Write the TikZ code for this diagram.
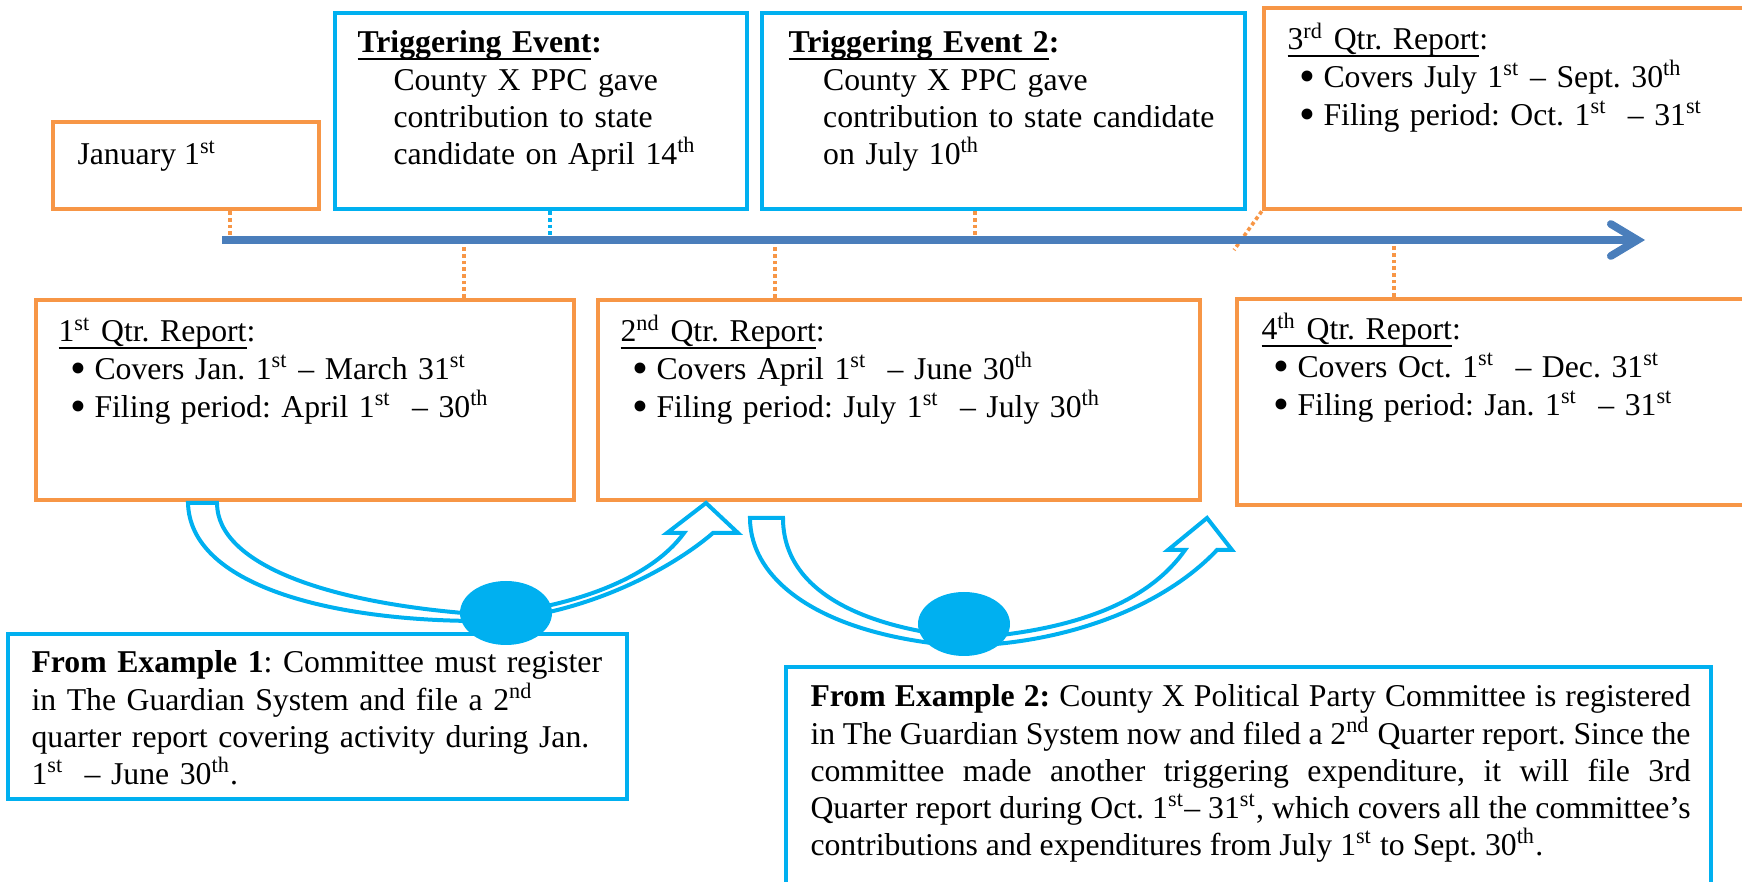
\documentclass[tikz,border=0pt]{standalone}
\usepackage{fontspec}
\setmainfont{Liberation Serif}
\usetikzlibrary{arrows.meta,positioning,shapes.geometric}
\definecolor{qorange}{HTML}{F79646}
\definecolor{tblue}{HTML}{00B0F0}
\definecolor{lineblue}{HTML}{4A7EBB}
\frenchspacing
\newsavebox{\ulbox}
\newcommand{\ulin}[1]{\sbox{\ulbox}{#1}\rlap{\rule[-2.5pt]{\wd\ulbox}{0.8pt}}\usebox{\ulbox}}
\newcommand{\qitem}[1]{\hspace*{4.5pt}\makebox[9pt][l]{\raisebox{-1.6pt}[0pt][0pt]{\scalebox{1.43}{\textbullet}}}#1}

\begin{document}
\begin{tikzpicture}[x=0.375pt, y=0.375pt,
	boxw/.style={minimum width=#1*0.375pt},
	boxh/.style={minimum height=#1*0.375pt},
	obox/.style={draw=qorange, line width=1.7pt, fill=white, inner sep=0pt},
	bbox/.style={draw=tblue, line width=1.75pt, fill=white, inner sep=0pt},
	exbox/.style={draw=tblue, line width=1.25pt, fill=white, inner sep=0pt},
	txt/.style={inner sep=0pt, anchor=base west, align=left, font=\fontsize{11.9pt}{13.9pt}\selectfont},
	dots/.style={line width=1.35pt, dash pattern=on 1.4pt off 1.1pt},
	timeline/.style={draw=lineblue, line width=2.9pt, -{Straight Barb[length=10pt, width=12pt, line cap=round]}},
	uarrow/.style={draw=tblue, line width=1.5pt, fill=white},
	spot/.style={ellipse, fill=tblue, minimum width=34.5pt, minimum height=24pt, inner sep=0pt}]
	\clip (0,0) rectangle (1742,-882);

	\node[obox, boxw=266, boxh=87] (jan) at (186,-165.5) {};
	\node[bbox, boxw=412, boxh=196] (trig1) at (541,-111) {};
	\node[bbox, boxw=483, boxh=196] (trig2) at (1003.5,-111) {};
	\node[obox, boxw=496, boxh=201] (q3) at (1512,-108.5) {};
	\node[obox, boxw=538, boxh=200] (q1) at (305,-400) {};
	\node[obox, boxw=602, boxh=200] (q2) at (899,-400) {};
	\node[obox, boxw=523, boxh=206] (q4) at (1498.5,-402) {};

	\node[txt] (jant) at (77,-165) {January 1\textsuperscript{st}};
	\node[txt, text width=142.5pt] (trig1t) at (357,-53) {\textbf{\ulin{Triggering Event}:}\\
		\hspace*{13.5pt}County X PPC gave\\
		\hspace*{13.5pt}contribution to state\\
		\hspace*{13.5pt}candidate on April 14\textsuperscript{th}};
	\node[txt, text width=168.75pt] (trig2t) at (788,-53) {\textbf{\ulin{Triggering Event 2}:}\\
		\hspace*{13pt}County X PPC gave\\
		\hspace*{13pt}contribution to state candidate\\
		\hspace*{13pt}on July 10\textsuperscript{th}};
	\node[txt, text width=170pt] (q3t) at (1287,-50) {\ulin{3\textsuperscript{rd} Qtr. Report}:\\
		\qitem{Covers July 1\textsuperscript{st} -- Sept. 30\textsuperscript{th}}\\[0.5pt]
		\qitem{Filing period: Oct. 1\textsuperscript{st}\ \ -- 31\textsuperscript{st}}};
	\node[txt, text width=187.5pt] (q1t) at (58,-342) {\ulin{1\textsuperscript{st} Qtr. Report}:\\
		\qitem{Covers Jan. 1\textsuperscript{st} -- March 31\textsuperscript{st}}\\[0.5pt]
		\qitem{Filing period: April 1\textsuperscript{st}\ \ -- 30\textsuperscript{th}}};
	\node[txt, text width=187.5pt] (q2t) at (620,-342) {\ulin{2\textsuperscript{nd} Qtr. Report}:\\
		\qitem{Covers April 1\textsuperscript{st}\ \ -- June 30\textsuperscript{th}}\\[0.5pt]
		\qitem{Filing period: July 1\textsuperscript{st}\ \ -- July 30\textsuperscript{th}}};
	\node[txt, text width=187.5pt] (q4t) at (1261,-340) {\ulin{4\textsuperscript{th} Qtr. Report}:\\
		\qitem{Covers Oct. 1\textsuperscript{st}\ \ -- Dec. 31\textsuperscript{st}}\\[0.5pt]
		\qitem{Filing period: Jan. 1\textsuperscript{st}\ \ -- 31\textsuperscript{st}}};

	\coordinate (t1) at (230,-240);
	\coordinate (t2) at (550,-240);
	\coordinate (t3) at (975,-240);
	\coordinate (t4) at (1234,-250);
	\coordinate (b1) at (464,-240);
	\coordinate (b2) at (775,-240);
	\coordinate (b3) at (1394,-240);
	\draw[dots, qorange] (jan.south -| t1) -- (t1);
	\draw[dots, tblue] (trig1.south -| t2) -- (t2);
	\draw[dots, qorange] (trig2.south -| t3) -- (t3);
	\draw[dots, qorange] (q3.south west) -- (t4);
	\draw[dots, qorange] (q1.north -| b1) -- (b1);
	\draw[dots, qorange] (q2.north -| b2) -- (b2);
	\draw[dots, qorange] (q4.north -| b3) -- (b3);

	\coordinate (tl0) at (222,-240);
	\coordinate (tl1) at (1645,-240);
	\draw[timeline] (tl0) -- (tl1);

	\draw[uarrow] (188,-503) .. controls (190,-585) and (330,-621) .. (480,-621)
		.. controls (580,-618) and (670,-570) .. (713,-533) -- (738,-533) -- (706,-503)
		-- (667,-533) -- (684,-533) .. controls (650,-580) and (570,-607) .. (490,-615)
		.. controls (330,-605) and (217,-565) .. (217,-503) -- cycle;
	\draw[uarrow] (750,-518) .. controls (750,-580) and (820,-635) .. (960,-646)
		.. controls (1070,-644) and (1165,-605) .. (1217,-550) -- (1232,-550) -- (1207,-518)
		-- (1168,-550) -- (1185,-550) .. controls (1150,-600) and (1080,-630) .. (970,-638)
		.. controls (860,-628) and (783,-590) .. (783,-518) -- cycle;

	\node[exbox, boxw=619, boxh=165] (ex1) at (317.5,-716.5) {};
	\node[exbox, boxw=925, boxh=233] (ex2) at (1248.5,-783.5) {};
	\node[txt, text width=221.25pt] (ex1t) at (31,-673) {\textbf{From Example 1}: Committee must register\\
		in The Guardian System and file a 2\textsuperscript{nd}\\
		quarter report covering activity during Jan.\\
		1\textsuperscript{st}\ \ -- June 30\textsuperscript{th}.};
	\node[txt, align=justify, text width=330pt] (ex2t) at (810,-707) {\textbf{From Example 2:} County X Political Party Committee is registered \linebreak
		in The Guardian System now and filed a 2\textsuperscript{nd} Quarter report. Since the \linebreak
		committee made another triggering expenditure, it will file 3rd \linebreak
		Quarter report during Oct. 1\textsuperscript{st}-- 31\textsuperscript{st}, which covers all the committee’s \linebreak
		contributions and expenditures from July 1\textsuperscript{st} to Sept. 30\textsuperscript{th}.};

	\node[spot] (d1) at (506,-613) {};
	\node[spot] (d2) at (964,-624) {};
\end{tikzpicture}
\end{document}
